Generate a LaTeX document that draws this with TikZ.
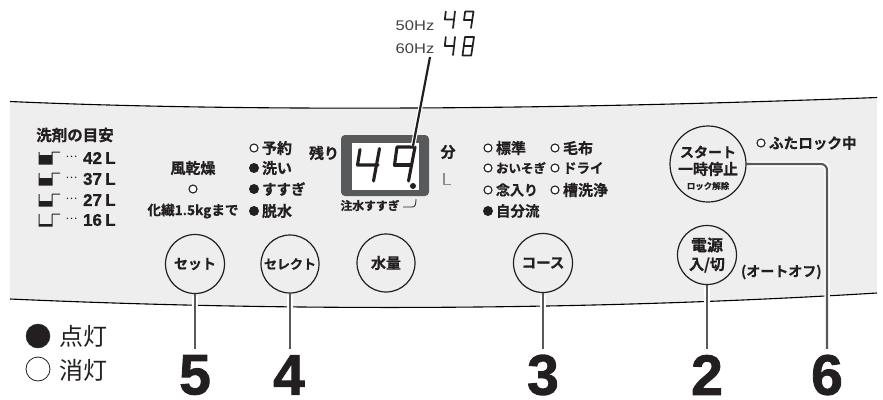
\documentclass[tikz,border=0pt]{standalone}
\usepackage{fontspec}
\setmainfont{Liberation Sans}
\newfontfamily\jpb{Noto Sans CJK JP Bold}[FakeBold=0.7]
\newfontfamily\jpr{Noto Sans CJK JP}
\newfontfamily\numf{Liberation Sans Bold}[FakeBold=1.5]
\newfontfamily\latb{Liberation Sans Bold}[FakeBold=0.8]
\newfontfamily\hzf{Liberation Sans}[FakeStretch=1.18]
\definecolor{panelc}{HTML}{EEEEEE}
\definecolor{leadc}{HTML}{58595B}
\definecolor{inkc}{HTML}{231F20}
\newcommand{\fs}[1]{\fontsize{#1}{#1}\selectfont}
\tikzset{
  x=1pt,y=-1pt,
  lab/.style={inner sep=0pt,outer sep=0pt,text=inkc,font=\jpb\fs{15}},
  lableft/.style={lab,anchor=west},
  btn/.style={circle,draw=inkc,line width=1.2pt,inner sep=0pt,outer sep=0pt,minimum size=#1,align=center},
  bigno/.style={inner sep=0pt,outer sep=0pt,text=inkc,font=\numf\fs{57}},
  leader/.style={draw=leadc,line width=2.2pt},
  halo/.style={draw=white,line width=5.5pt},
  seg/.style={draw=inkc,line cap=round,line join=round},
  offled/.style={fill=white,draw=inkc,line width=1.1pt},
  cup/.pic={
    \fill[inkc] (-7,#1) -- (-7,6) -- (6,6) -- (6,#1) -- cycle;
    \draw[inkc,line width=1pt] (-7,-6) -- (-7,6) -- (6,6) -- (6,-4) .. controls (6,-6) .. (8,-6) -- (14,-6);
  }
}
\begin{document}
\begin{tikzpicture}
\useasboundingbox (0,0) rectangle (883,399);
% panel
\fill[panelc] (10,101.5) .. controls (200,110) and (500,112) .. (877,97.5)
  -- (877,293) .. controls (600,310) and (300,312) .. (10,299) -- cycle;
\draw[black,line width=1.1pt] (10,101.5) .. controls (200,110) and (500,112) .. (877,97.5);
\draw[black,line width=1.1pt] (10,299) .. controls (300,312) and (600,310) .. (877,293);

% detergent table
\node[lab,font=\jpb\fs{15.5}] (detergent) at (75,135) {洗剤の目安};
\foreach \yy/\lvl/\val [count=\i] in {158/-3/42,179/-1/37,200/1/27,220/4/16}{
  \pic at (46,\yy) {cup=\lvl};
  \node[inner sep=0pt,text=inkc,font=\jpr\fs{11}] (dots\i) at (71.5,\yy-1) {…};
  \node[inner sep=0pt,text=inkc,font=\latb\fs{17}] (vol\i) at (92.5,\yy) {\val};
  \node[inner sep=0pt,text=inkc,font=\latb\fs{17}] (unit\i) at (110.5,\yy) {L};
}

% wind dry
\node[lab] (fuu) at (193,168) {風乾燥};
\draw[offled] (193,189) circle (4);
\node[lab,font=\jpb\fs{13.6}] (kasen) at (193,211) {化繊1.5kgまで};

% cycle list
\draw[offled] (254,148) circle (4);
\fill[inkc] (254,168) circle (5);
\fill[inkc] (254,189) circle (5);
\fill[inkc] (254,211) circle (5);
\node[lableft] (yoyaku) at (262,148) {予約};
\node[lableft] (arai) at (262,168) {洗い};
\node[lableft,font=\jpb\fs{14.5}] (susugi) at (262,189) {すすぎ};
\node[lableft] (dassui) at (262,211) {脱水};

% display
\node[lab] (nokori) at (324,153) {残り};
\node[lab] (fun) at (448,152) {分};
\draw[line width=1.8pt,draw=black!45,line join=miter] (444,173) -- (444,184.5) -- (451,184.5);
\fill[leadc,rounded corners=4pt] (341,135) rectangle (429,196);
\fill[white] (352,143) rectangle (419,190);
\begin{scope}[seg,line width=3.1pt]
  \draw (360,149.5) -- (357.5,165) -- (378,165);
  \draw (379.5,148.5) -- (373.5,181);
  \draw (394.5,165) -- (397,147) -- (415,147) -- (408.5,181);
  \draw (394.5,165) -- (411.5,165);
\end{scope}
\fill[inkc] (413,186) circle (3);
\node[lab,font=\jpb\fs{11.8}] (chusui) at (370,205.5) {注水すすぎ};
\draw[inkc,line width=.8pt] (403,207) -- (412,207) .. controls (415,207) and (416,205) .. (416,199);

% hz
\node[inner sep=0pt,text=inkc!85,font=\hzf\fs{14},anchor=east] (hz50) at (434.5,26) {50Hz};
\node[inner sep=0pt,text=inkc!85,font=\hzf\fs{14},anchor=east] (hz60) at (434.5,49) {60Hz};
\begin{scope}[seg,line width=1.7pt]
  \draw (445.8,11.5) -- (444.8,19.5) -- (454,19.5);
  \draw (455,11.5) -- (453,28);
  \draw (464,20) -- (465.2,11.5) -- (473.5,11.5) -- (471,28);
  \draw (464,20) -- (472.3,20);
  \draw (445.8,37) -- (444.8,46) -- (454,46);
  \draw (455,37) -- (453,55);
  \draw (465,37) -- (474,37) -- (471.2,55.5) -- (462.5,55.5) -- cycle;
  \draw (463.8,46) -- (472.6,46);
\end{scope}
\coordinate (hzfoot) at (430,57);
\coordinate (digtop) at (413,146);
\draw[white,line width=4.5pt] (hzfoot) -- (digtop);
\draw[inkc,line width=2.2pt] (hzfoot) -- (digtop);

% course list
\foreach \yy in {148,168,190}{
  \draw[offled] (488,\yy) circle (4);
  \draw[offled] (555,\yy) circle (4);
}
\fill[inkc] (488,211) circle (5);
\node[lableft] (hyojun) at (496,148) {標準};
\node[lableft,font=\jpb\fs{12.5}] (oisogi) at (496,168) {おいそぎ};
\node[lableft,font=\jpb\fs{14}] (nenTeiri) at (496,190) {念入り};
\node[lableft,font=\jpb\fs{14.5}] (jibun) at (496,211) {自分流};
\node[lableft] (moufu) at (563,148) {毛布};
\node[lableft,font=\jpb\fs{13.5}] (dry) at (563,168) {ドライ};
\node[lableft] (sou) at (563,190) {槽洗浄};

% lid lock
\draw[offled] (761,143) circle (4);
\node[lableft,font=\jpb\fs{14.6}] (lock) at (769,143) {ふたロック中};
\node[lab,font=\jpb\fs{14},anchor=west] (auto) at (741,272) {(オートオフ)};

% buttons
\node[btn=59pt] (btnset) at (195,264) {};
\node[btn=58pt] (btnsel) at (290,264) {};
\node[btn=58pt] (btnwat) at (386,263) {};
\node[btn=59pt] (btncor) at (543,263) {};
\node[btn=76pt] (btnsta) at (708,164) {};
\node[btn=59pt] (btnpow) at (707,255) {};
\node[lab,font=\jpb\fs{14}] (tset) at (btnset) {セット};
\node[lab,font=\jpb\fs{13}] (tsel) at (btnsel) {セレクト};
\node[lab] (twat) at (btnwat) {水量};
\node[lab,font=\jpb\fs{14.5}] (tcor) at (btncor) {コース};
\node[lab,font=\jpb\fs{14}] (tsta1) at (708,152) {スタート};
\node[lab] (tsta2) at (708,169) {一時停止};
\node[lab,font=\jpb\fs{8.5}] (tsta3) at (708,186) {ロック解除};
\node[lab,font=\jpb\fs{16}] (tpow1) at (707,245) {電源};
\node[lab,font=\jpb\fs{15}] (tpow2) at (707,265) {入/切};

% big numbers
\node[bigno] (n5) at (195,375) {5};
\node[bigno] (n4) at (289,375) {4};
\node[bigno] (n3) at (543,375) {3};
\node[bigno] (n2) at (707,375) {2};
\node[bigno] (n6) at (827,375) {6};

% leaders
\foreach \b/\n in {btnset/n5,btnsel/n4,btncor/n3,btnpow/n2}{
  \draw[halo,shorten >=6pt,shorten <=2pt] (\b.south) -- (\b.south |- \n.north);
  \draw[leader,shorten >=6pt] (\b.south) -- (\b.south |- \n.north);
}
\draw[halo,shorten >=6pt,shorten <=2pt,rounded corners=6pt] (btnsta.east) -- (n6.north |- btnsta.east) -- (n6.north);
\draw[leader,shorten >=6pt,rounded corners=6pt] (btnsta.east) -- (n6.north |- btnsta.east) -- (n6.north);

% legend
\node[circle,fill=inkc,draw=inkc,minimum size=24pt,inner sep=0pt] (ledon) at (38,336) {};
\node[circle,fill=white,draw=inkc,line width=.8pt,minimum size=24pt,inner sep=0pt] (ledoff) at (38,369) {};
\node[lab,font=\jpr\fs{24},anchor=west] (ton) at (59,336) {点灯};
\node[lab,font=\jpr\fs{24},anchor=west] (toff) at (59,370) {消灯};
\end{tikzpicture}
\end{document}
